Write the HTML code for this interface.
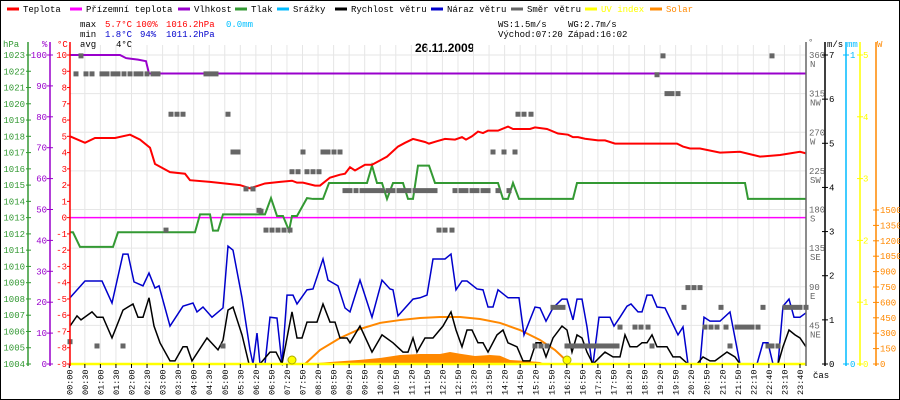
<!DOCTYPE html>
<html><head><meta charset="utf-8"><style>
body{margin:0;background:#fff}
svg{display:block;font-family:"Liberation Mono","DejaVu Sans Mono",monospace}
</style></head><body>
<svg id="c" width="900" height="400" viewBox="0 0 900 400">
<rect x="0.5" y="0.5" width="899" height="399" fill="#fff" stroke="#000"/>
<g id="legend" font-size="9"></g>
<g font-size="9">
<text x="80" y="27">max</text>
<text x="105" y="27" fill="#f00">5.7°C</text>
<text x="136" y="27" fill="#f00">100%</text>
<text x="166" y="27" fill="#f00">1016.2hPa</text>
<text x="226" y="27" fill="#00bfff">0.0mm</text>
<text x="80" y="37">min</text>
<text x="105" y="37" fill="#00c">1.8°C</text>
<text x="140" y="37" fill="#00c">94%</text>
<text x="166" y="37" fill="#00c">1011.2hPa</text>
<text x="80" y="47">avg</text>
<text x="116" y="47">4°C</text>
<text x="498" y="27">WS:1.5m/s</text>
<text x="568" y="27">WG:2.7m/s</text>
<text x="498" y="37">Východ:07:20</text>
<text x="568" y="37">Západ:16:02</text>
</g>
<text x="415" y="52" font-size="12" font-weight="bold" font-family="Liberation Sans,sans-serif">26.11.2009</text>
<g id="grid"></g>
<g id="marks"></g>
<g id="axes" font-size="9"></g>
</svg>
<script>
// ---- data ----
const timeLabels=["00:00","00:30","01:00","01:30","02:00","02:30","03:00","03:30","04:00","04:30","05:00","05:30","06:20","06:50","07:20","07:50","08:20","08:50","09:20","09:50","10:20","10:50","11:20","11:50","12:20","12:50","13:20","13:50","14:20","14:50","15:20","15:50","16:20","16:50","17:20","17:50","18:20","18:50","19:20","19:50","20:20","20:50","21:20","21:50","22:10","22:40","23:10","23:40"];
const tempIdx=[0,15,25,45,60,70,80,85,100,115,120,140,170,180,195,210,222,227,233,245,250,260,270,275,280,285,295,302,317,328,335,343,355,359,367,375,385,392,396,402,408,413,418,428,438,443,460,465,477,488,498,503,508,515,528,535,545,548,607,613,620,630,650,670,690,710,730,736];
const tempVal=[5.0,4.6,4.9,4.9,5.1,4.8,4.3,3.3,2.8,2.7,2.3,2.2,2.0,1.8,2.1,2.2,2.27,2.15,2.15,1.97,1.97,2.46,2.64,2.7,3.1,2.9,3.25,3.25,3.75,4.37,4.6,4.84,4.65,4.55,4.7,4.84,4.8,4.95,4.8,5.0,5.29,5.2,5.35,5.35,5.6,5.45,5.45,5.55,5.45,5.17,5.1,4.95,4.95,4.85,4.75,4.75,4.55,4.55,4.55,4.37,4.25,4.25,4.0,4.05,3.75,3.85,4.05,3.95];
const dewIdx=[0,736];
const dewVal=[0,0];
const humIdx=[0,50,56,68,76,79,736];
const humVal=[100,100,99,98.5,98,94,94];
const pressIdx=[0,3,10,43,48,125,130,140,143,148,153,195,201,207,213,219,222,227,237,243,253,259,297,302,307,312,317,323,333,338,343,348,359,365,428,433,438,443,449,503,507,675,678,736];
const pressVal=[1012.1,1012.1,1011.2,1011.2,1012.1,1012.1,1013.2,1013.2,1012.2,1012.2,1013.2,1013.2,1014.2,1013.1,1013.1,1012.2,1013.1,1013.1,1014.2,1014.15,1014.15,1015.13,1015.13,1016.2,1015.13,1015.13,1014.15,1015.13,1015.13,1014.15,1014.15,1016.2,1016.2,1015.13,1015.13,1014.15,1014.15,1015.13,1014.15,1014.15,1015.13,1015.13,1014.15,1014.15];
const gustIdx=[0,15,32,42,53,58,64,73,79,85,89,100,113,123,127,133,142,153,158,163,172,180,183,187,190,195,200,207,212,217,223,227,237,243,253,258,268,275,280,290,302,312,320,323,328,343,350,357,363,375,381,386,392,397,407,413,418,423,428,438,449,454,465,470,476,483,492,497,503,507,512,517,522,523,529,540,544,550,557,561,568,572,577,582,587,595,608,613,618,630,634,640,650,660,670,687,693,698,703,708,713,719,724,730,736];
const gustVal=[1.5,1.88,1.88,1.38,2.49,2.49,1.86,1.77,2.06,1.72,1.77,0.86,1.31,1.38,1.18,1.29,1.06,1.27,2.67,2.58,1.5,0.32,0,0.7,0,0,1.06,1.04,0,1.56,1.56,1.36,1.68,1.7,2.38,1.9,1.77,1.27,1.18,1.9,1.06,1.9,1.7,1.68,1.09,1.47,1.5,1.56,2.38,2.38,2.49,1.68,1.88,1.88,1.7,1.68,1.29,1.29,1.68,1.5,1.5,0.66,1.29,1.27,0.97,1.27,1.47,1.47,1.0,1.47,1.47,0.84,0,0,1.06,1.06,0.86,1.06,1.31,1.36,1.18,1.18,1.56,1.56,1.29,1.27,0.66,0.84,0,0,1.06,0.97,0.97,1.18,0,0,0.48,0.48,0,0,1.31,1.47,1.06,1.06,1.16];
const windIdx=[0,7,11,22,27,33,42,53,63,68,73,79,84,90,100,105,113,117,122,137,148,153,158,163,172,179,190,200,206,212,222,227,232,237,247,253,260,265,270,277,280,290,302,312,323,333,338,343,347,350,355,363,373,381,386,392,397,402,408,413,418,427,433,438,447,453,460,466,471,476,483,492,497,502,507,512,517,523,530,535,543,550,555,560,567,572,577,582,587,597,603,610,618,627,633,640,645,657,665,670,683,700,708,713,719,725,730,736];
const windVal=[0.86,1.09,1.0,1.18,1.06,1.06,0.59,1.22,1.36,1.06,1.06,1.5,0.86,0.48,0.07,0.07,0.39,0.39,0.07,0.59,0.32,0.54,1.22,1.29,0.66,0,0,0.27,0.27,0,1.18,0.59,0.59,0.95,0.95,1.36,0.95,0.95,0.59,0.59,0.48,0.86,0.27,0.66,0.48,0.27,0.27,0.59,0.27,0.39,0.59,0.59,0.86,1.18,0.77,0.39,0.77,0.77,0.48,0.48,0.27,0.66,0.77,0.48,0.39,0.07,0.07,0.48,0.48,0.16,0.59,0.86,0.77,0.27,0.66,0.59,0.27,0,0.16,0.27,0.16,0.16,0.66,0.39,0.39,0.48,0.48,0.66,0.39,0.39,0.16,0.16,0,0,0.16,0.07,0.07,0.27,0.16,0,0,0,0,0.39,0.77,0.66,0.59,0.39];
const dirIdx=[11,6,16,22,32,37,43,48,54,60,66,71,77,83,88,0,27,53,101,107,113,136,141,146,96,153,158,163,168,176,183,189,191,196,202,208,214,220,222,228,233,237,243,249,253,258,264,270,275,280,286,292,297,302,307,312,318,323,329,334,339,345,350,355,360,365,369,375,382,385,391,396,402,407,413,418,423,428,434,439,445,448,454,461,465,471,477,483,488,493,497,502,507,512,517,521,523,528,533,538,543,547,550,565,571,578,582,587,593,597,602,608,614,618,624,630,635,641,647,651,656,660,667,672,677,682,688,693,698,702,708,715,720,725,730,736,702];
const dirVal=[359,338,338,338,338,338,338,338,338,338,338,338,338,338,338,26,21,21,291,291,291,338,338,338,156,21,291,247,247,204,204,179,178,156,156,156,156,156,224,224,247,224,224,224,247,247,247,247,202,202,202,202,202,202,202,202,202,202,202,202,202,202,202,202,202,202,156,156,156,202,202,202,202,202,202,202,247,202,247,202,247,291,291,291,21,21,21,66,66,66,21,21,21,21,21,21,21,21,21,21,21,21,43,43,43,43,21,337,359,315,315,315,66,89,89,89,43,43,43,66,43,21,43,43,43,43,43,66,21,21,21,66,66,66,66,66,359];
const solarMaxIdx=[235,250,270,290,310,330,350,370,390,410,430,450,470,485,500];
const solarMaxVal=[0,136,253,341,400,428,448,458,458,438,400,331,234,136,0];
const solarIdx=[235,260,290,310,330,350,370,380,390,405,420,430,440,455,470,475];
const solarVal=[0,20,40,58,88,97,97,117,100,78,88,80,39,30,20,0];
const sunIdx=[222,497];
// ---- scales ----
const X0=70,X1=806,Y0=55,Y1=364;
const NIDX=736;
const xs=i=>X0+(X1-X0)*i/NIDX;
const yT=v=>Y1-(v+9)/19*(Y1-Y0);
const yH=v=>Y1-v/100*(Y1-Y0);
const yP=v=>Y1-(v-1004)/19*(Y1-Y0);
const yW=v=>Y1-v/7*(Y1-Y0);
const yD=v=>Y1-v/360*(Y1-Y0);
const yS=v=>Y1-v/1500*154;
const NS="http://www.w3.org/2000/svg";
function mk(tag,attrs,parent){const e=document.createElementNS(NS,tag);for(const k in attrs)e.setAttribute(k,attrs[k]);parent.appendChild(e);return e;}
const grid=document.getElementById('grid'),marks=document.getElementById('marks'),axes=document.getElementById('axes'),legend=document.getElementById('legend');
const legItems=[["Teplota","#f00",7],["Přízemní teplota","#f0f",70],["Vlhkost","#90c",178],["Tlak","#393",235],["Srážky","#0bf",277],["Rychlost větru","#000",335],["Náraz větru","#00c",431],["Směr větru","#666",511],["UV index","#ff0",585],["Solar","#f80",650]];
legItems.forEach(it=>{
  const l=mk('line',{x1:it[2],x2:it[2]+12,y1:9,y2:9,stroke:it[1],'stroke-width':3},legend);
  
  
  const t=mk('text',{x:it[2]+16,y:12,fill:(it[1]=="#ff0"||it[1]=="#f80")?it[1]:"#000"},legend);
  t.textContent=it[0];
  
  
});
const slotW=(800-69.3)/47;
timeLabels.forEach((lab,k)=>{
  const x=69.3+k*slotW;
  const g=mk('line',{x1:x,x2:x,y1:Y0-10,y2:Y1,stroke:"#e6e6e6"},grid);
  
  
  const tk=mk('line',{x1:x,x2:x,y1:Y1,y2:Y1+4,stroke:"#000"},axes);
  
  
  const t=mk('text',{transform:`translate(${x+3},395) rotate(-90)`,'font-size':8.5},axes);
  t.textContent=lab;
  
  
});
for(let d=45;d<=360;d+=45){
  const g=mk('line',{x1:X0,x2:X1,y1:yD(d),y2:yD(d),stroke:"#e6e6e6"},grid);
  
  
}
function poly(ix,vals,ys,color,w,name){
  const p=mk('polyline',{points:ix.map((i,k)=>xs(i)+","+ys(vals[k])).join(" "),fill:"none",stroke:color,'stroke-width':w},marks);
  
  
}
const sa=mk('polygon',{points:solarIdx.map((i,k)=>xs(i)+","+yS(solarVal[k])).join(" "),fill:"#f80"},marks);


poly(solarMaxIdx,solarMaxVal,yS,"#f80",2,"solar-max-line");
poly(dewIdx,dewVal,yT,"#f0f",1.5,"dew-point-line");
poly(humIdx,humVal,yH,"#90c",2,"humidity-line");
poly(pressIdx,pressVal,yP,"#393",2,"pressure-line");
poly(gustIdx,gustVal,yW,"#00c",1.5,"gust-line");
poly(windIdx,windVal,yW,"#000",1.5,"wind-speed-line");
poly(tempIdx,tempVal,yT,"#f00",2,"temperature-line");
dirIdx.forEach((i,k)=>{
  const r=mk('rect',{x:xs(i)-2.5,y:yD(dirVal[k])-2.5,width:5,height:5,fill:"#666"},marks);
  
  
});
const uv=mk('line',{x1:X0,x2:X1,y1:Y1,y2:Y1,stroke:"#ff0",'stroke-width':2.5},marks);


sunIdx.forEach(i=>{
  const c=mk('circle',{cx:xs(i),cy:360,r:4,fill:"#ff0",stroke:"#aa0"},marks);
  
  
});
function vaxis(x,col,y0,y1,name){const l=mk('line',{x1:x,x2:x,y1:y0,y2:y1,stroke:col,'stroke-width':1.5},axes);}
function label(x,y,txt,col,anchor,name){const t=mk('text',{x:x,y:y,fill:col,'text-anchor':anchor},axes);t.textContent=txt;}
function tick(x1,x2,y,col){const l=mk('line',{x1:x1,x2:x2,y1:y,y2:y,stroke:col},axes);}
vaxis(28,"#393",42,366,"pressure-axis");
vaxis(50,"#90c",42,366,"humidity-axis");
vaxis(X0,"#f00",42,366,"temperature-axis");
vaxis(X1,"#666",42,366,"direction-axis");
vaxis(825,"#000",42,366,"wind-axis");
vaxis(846,"#0bf",42,366,"rain-axis");
vaxis(860,"#ff0",42,366,"uv-axis");
vaxis(876,"#f80",42,366,"solar-axis");
label(3,47,"hPa","#393","start","pressure-axis-title");
label(42,47,"%","#90c","start","humidity-axis-title");
label(57,47,"°C","#f00","start","temperature-axis-title");
label(808,45,"°","#666","start","direction-axis-title");
label(827,47,"m/s","#000","start","wind-axis-title");
label(847,47,"mm","#0bf","start","rain-axis-title");
label(877,47,"W","#f80","start","solar-axis-title");
label(813,378,"čas","#000","start","x-axis-title");
for(let p=1004;p<=1023;p++){tick(26,31,yP(p),"#393");label(25,yP(p)+3,String(p),"#393","end","pressure-tick-label");}
for(let h=0;h<=100;h+=10){tick(47,53,yH(h),"#90c");label(47,yH(h)+3,String(h),"#90c","end","humidity-tick-label");}
for(let t=-9;t<=10;t++){tick(67,70,yT(t),"#f00");label(67,yT(t)+3,String(t),"#f00","end","temperature-tick-label");}
const comp=["","NE","E","SE","S","SW","W","NW","N"];
for(let d=45;d<=360;d+=45){label(809,yD(d)+3,String(d),"#666","start","direction-tick-label");label(810,yD(d)+12,comp[d/45],"#666","start","compass-label");}
for(let v=0;v<=7;v++){tick(822,828,yW(v),"#000");label(829,yW(v)+3,String(v),"#000","start","wind-tick-label");}
tick(843,849,Y0,"#0bf");label(850,Y0+3,"1","#0bf","start","rain-tick-label");
tick(843,849,Y1,"#0bf");label(850,Y1+3,"0","#0bf","start","rain-tick-label");
for(let u=0;u<=5;u++){const y=Y1-u/5*(Y1-Y0);tick(857,863,y,"#ff0");label(863,y+3,String(u),"#ff0","start","uv-tick-label");}
for(let s=0;s<=1500;s+=150){tick(873,879,yS(s),"#f80");label(880,yS(s)+3,String(s),"#f80","start","solar-tick-label");}
</script>
</body></html>
